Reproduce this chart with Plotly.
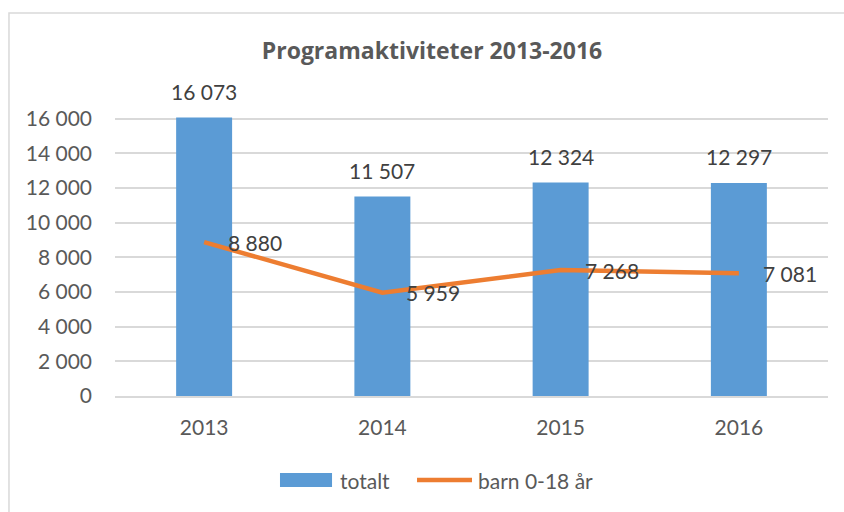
import plotly.graph_objects as go

years = ["2013", "2014", "2015", "2016"]
totalt = [16073, 11507, 12324, 12297]
barn = [8880, 5959, 7268, 7081]
y_ticks = [0, 2000, 4000, 6000, 8000, 10000, 12000, 14000, 16000]
series_names = ["totalt", "barn 0-18 år"]

def fmt(v):
    return f"{v:,}".replace(",", " ")

FONT = "Lato"
BLUE = "#5B9BD5"
ORANGE = "#ED7D31"

fig = go.Figure()
fig.add_trace(go.Bar(x=years, y=totalt, name=series_names[0], marker_color=BLUE,
                     marker_line_width=0, width=0.314))
fig.add_trace(go.Scatter(x=years, y=barn, name=series_names[1], mode="lines",
                         line=dict(color=ORANGE, width=4.5)))

ann = []
for i, v in enumerate(totalt):
    ann.append(dict(x=i, y=v, text=fmt(v), showarrow=False, xanchor="center",
                    yanchor="middle", yshift=26,
                    font=dict(family=FONT, size=21, color="#404040")))
for i, v in enumerate(barn):
    ann.append(dict(x=i, y=v, text=fmt(v), showarrow=False, xanchor="left",
                    yanchor="middle", xshift=22,
                    font=dict(family=FONT, size=21, color="#404040")))

# custom legend (layout decoration, paper coordinates)
leg_font = dict(family=FONT, size=21, color="#595959")
ann.append(dict(xref="paper", yref="paper", x=0.3128, y=-0.3011, text=series_names[0],
                showarrow=False, xanchor="left", yanchor="middle", font=leg_font))
ann.append(dict(xref="paper", yref="paper", x=0.5063, y=-0.3011, text=series_names[1],
                showarrow=False, xanchor="left", yanchor="middle", font=leg_font))

shapes = [
    dict(type="rect", xref="paper", yref="paper", x0=-0.1487, x1=1.2,
         y0=-0.6, y1=1.373, line=dict(color="#D9D9D9", width=1.5),
         fillcolor="rgba(0,0,0,0)", layer="below"),
    dict(type="rect", xref="paper", yref="paper", x0=0.2314, x1=0.3044,
         y0=-0.3262, y1=-0.276, line=dict(width=0), fillcolor=BLUE),
    dict(type="line", xref="paper", yref="paper", x0=0.4236, x1=0.5007,
         y0=-0.3011, y1=-0.3011, line=dict(color=ORANGE, width=4.5)),
]

fig.update_layout(
    width=844, height=512,
    margin=dict(l=115, r=16, t=117, b=116),
    paper_bgcolor="white", plot_bgcolor="white",
    title=dict(text="<b>Programaktiviteter 2013-2016</b>", x=(432) / 844, xanchor="center",
               y=1 - 51 / 512, yanchor="middle",
               font=dict(family="Open Sans", size=23, color="#595959")),
    annotations=ann,
    showlegend=False,
    shapes=shapes,
)
fig.update_xaxes(type="category", range=[-0.5, len(years) - 0.5], automargin=False,
                 showgrid=False, showline=True, linecolor="#D9D9D9", linewidth=1.5,
                 tickfont=dict(family=FONT, size=21, color="#595959"),
                 ticks="", ticklabelstandoff=12)
fig.update_yaxes(automargin=False, range=[0, 16100], tickvals=y_ticks,
                 ticktext=[fmt(v) for v in y_ticks],
                 showgrid=True, gridcolor="#D9D9D9", gridwidth=1.5, zeroline=False,
                 showline=False, ticks="", ticklabelstandoff=22,
                 tickfont=dict(family=FONT, size=21, color="#595959"))

fig.write_html("out.html", config={"displayModeBar": False},
               post_script="document.body.style.margin='0';document.body.style.overflow='hidden';")
